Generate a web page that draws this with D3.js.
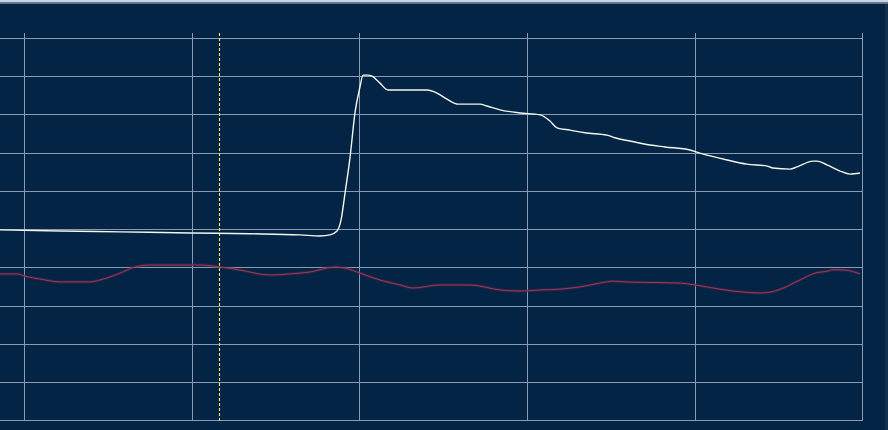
<!DOCTYPE html>
<html>
<head>
<meta charset="utf-8">
<script src="https://cdn.jsdelivr.net/npm/d3@7"></script>
<style>
  html, body { margin: 0; padding: 0; background: #032445; overflow: hidden; }
  svg { display: block; }
</style>
</head>
<body>
<svg id="chart" width="888" height="430"></svg>
<script>
// ---- data (time units, value units) ----
const xTicks = [0, 10, 20, 30, 40, 50];
const yTicks = [0, 10, 20, 30, 40, 50, 60, 70, 80, 90, 100];

const whiteT = [-1.43, 2.15, 5.73, 9.90, 13.48, 16.46, 17.65, 18.25, 18.67, 18.91, 19.15, 19.45, 19.74, 20.04, 20.22, 20.52, 20.76, 21.23, 21.71, 22.43, 24.04, 24.63, 25.23, 25.89, 27.20, 27.62, 28.39, 29.58, 30.78, 31.37, 31.79, 32.57, 33.46, 34.77, 35.25, 36.44, 37.34, 38.23, 39.72, 40.32, 41.93, 43.12, 44.32, 44.67, 45.69, 46.11, 47.06, 47.30, 47.89, 48.67, 49.27, 49.86];
const whiteV = [49.8, 49.5, 49.3, 49.0, 48.8, 48.5, 48.2, 48.5, 49.5, 52.4, 59.5, 68.9, 80.4, 87.2, 90.3, 90.3, 90.0, 88.2, 86.4, 86.4, 86.4, 85.6, 84.0, 82.7, 82.7, 82.2, 81.2, 80.4, 79.9, 78.3, 76.5, 75.9, 75.2, 74.6, 73.9, 72.8, 72.0, 71.5, 70.7, 69.9, 68.1, 67.0, 66.5, 66.0, 65.7, 66.3, 67.8, 67.8, 66.8, 65.2, 64.4, 64.7];

const redT = [-1.43, -0.42, 0.06, 0.95, 2.15, 3.94, 4.53, 5.73, 6.62, 7.52, 10.50, 11.69, 12.88, 14.67, 15.87, 17.06, 18.55, 19.15, 20.04, 21.23, 22.43, 23.20, 24.81, 26.60, 28.39, 29.58, 30.78, 31.97, 33.16, 34.36, 35.13, 35.85, 39.13, 40.02, 41.51, 42.71, 43.90, 44.79, 46.28, 47.18, 47.89, 48.25, 48.97, 49.86];
const redV = [38.3, 38.3, 37.7, 36.96, 36.2, 36.2, 36.7, 38.5, 40.1, 40.6, 40.6, 40.1, 39.3, 38.0, 38.3, 38.8, 40.1, 39.8, 38.5, 36.7, 35.4, 34.6, 35.4, 35.4, 34.1, 33.8, 34.1, 34.3, 34.9, 35.9, 36.4, 36.2, 35.9, 35.4, 34.3, 33.6, 33.3, 33.8, 36.7, 38.5, 39.0, 39.4, 39.3, 38.3];

const markerT = 11.63;

// ---- layout ----
const W = 888, H = 430;
const svg = d3.select("#chart");

const x = d3.scaleLinear().domain([0, 50]).range([24, 862.3]);
const y = d3.scaleLinear().domain([0, 100]).range([420.3, 38]);

// background
svg.append("rect").attr("x", 0).attr("y", 0).attr("width", W).attr("height", H).attr("fill", "#032445");
svg.append("rect").attr("x", 885).attr("y", 0).attr("width", 3).attr("height", H).attr("fill", "#13304f");
// top frame
svg.append("rect").attr("x", 0).attr("y", 0).attr("width", W).attr("height", 2.5).attr("fill", "#c9d3dd");
svg.append("line").attr("x1", 0).attr("x2", W).attr("y1", 3.5).attr("y2", 3.5).attr("stroke", "#5d6f85").attr("stroke-width", 1);

const gridColor = "#8a9ab0";
const gGrid = svg.append("g");

// horizontal grid via axis
gGrid.append("g")
  .attr("transform", `translate(${x(50)},0)`)
  .call(d3.axisRight(y).tickValues(yTicks).tickSize(-x(50)).tickFormat(""))
  .call(g => g.select(".domain").remove())
  .call(g => g.selectAll(".tick line").attr("stroke", gridColor).attr("stroke-width", 1).attr("shape-rendering", "crispEdges"));

// vertical grid via axis
gGrid.append("g")
  .attr("transform", `translate(0,${y(0) + 0.7})`)
  .call(d3.axisBottom(x).tickValues(xTicks).tickSize(-(y(0) + 0.7 - 33)).tickFormat(""))
  .call(g => g.select(".domain").remove())
  .call(g => g.selectAll(".tick line").attr("stroke", gridColor).attr("stroke-width", 1).attr("shape-rendering", "crispEdges"));

// marker dashed line
svg.append("line")
  .attr("x1", Math.round(x(markerT)) + 0.5).attr("x2", Math.round(x(markerT)) + 0.5)
  .attr("y1", 33).attr("y2", y(0) + 0.5)
  .attr("stroke", "#f2ee5a").attr("stroke-width", 1.1)
  .attr("stroke-dasharray", "3,2");

// series
const redData = redT.map((t, i) => [t, redV[i]]);
const whiteData = whiteT.map((t, i) => [t, whiteV[i]]);

const line = d3.line().x(d => x(d[0])).y(d => y(d[1])).curve(d3.curveMonotoneX);

svg.append("path").datum(redData)
  .attr("d", line).attr("fill", "none")
  .attr("stroke", "#5a2444").attr("stroke-width", 3).attr("stroke-opacity", 0.5);
svg.append("path").datum(redData)
  .attr("d", line).attr("fill", "none")
  .attr("stroke", "#9c3a5c").attr("stroke-width", 1);

svg.append("path").datum(whiteData)
  .attr("d", line).attr("fill", "none")
  .attr("stroke", "#f3f7ee").attr("stroke-width", 1.4);
</script>
</body>
</html>
